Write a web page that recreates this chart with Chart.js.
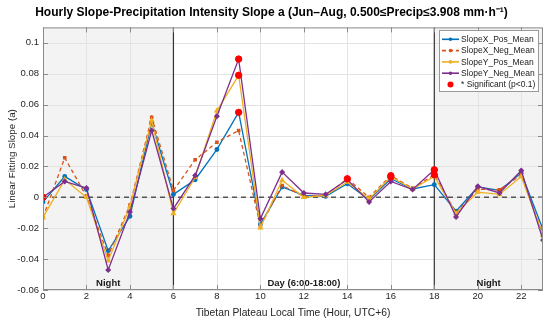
<!DOCTYPE html>
<html>
<head>
<meta charset="utf-8">
<script src="https://cdn.jsdelivr.net/npm/chart.js@4"></script>
<style>
  html, body { margin: 0; padding: 0; background: #fff; }
  #wrap { width: 550px; height: 324px; }
</style>
</head>
<body>
<div id="wrap"><canvas id="myChart" width="550" height="324"></canvas></div>
<script>
// data
const hours = [0,1,2,3,4,5,6,7,8,9,10,11,12,13,14,15,16,17,18,19,20,21,22,23];
const slopeXPos = [-0.003,0.0135,0.005,-0.0346,-0.0123,0.0486,0.0019,0.0114,0.031,0.055,-0.0174,0.0067,0.0013,0.0006,0.0088,-0.0015,0.012,0.0054,0.0082,-0.009,0.0067,0.0045,0.0157,-0.0209];
const slopeXNeg = [-0.013,0.0256,0.0006,-0.0376,-0.005,0.0518,0.0045,0.0243,0.0357,0.0432,-0.0187,0.0077,0.0006,0.0012,0.012,0.0,0.014,0.0058,0.0146,-0.010,0.0052,0.0049,0.0146,-0.0245];
const slopeYPos = [-0.013,0.0114,0.0,-0.041,-0.006,0.0497,-0.0105,0.013,0.056,0.079,-0.0196,0.011,0.0,0.0012,0.0099,-0.001,0.0133,0.0054,0.0135,-0.0105,0.0034,0.0019,0.0135,-0.0245];
const slopeYNeg = [0.0,0.0103,0.006,-0.047,-0.0095,0.0432,-0.0073,0.0142,0.0525,0.0895,-0.0138,0.0163,0.0028,0.0019,0.0115,-0.003,0.0103,0.005,0.0178,-0.0127,0.0071,0.0028,0.0174,-0.0277];
const sigHours = [0,9,9,9,14,16,16,18,18];
const sigValues = [0.0,0.0895,0.079,0.055,0.012,0.014,0.0133,0.0178,0.0146];
const seriesNames = ["SlopeX_Pos_Mean","SlopeX_Neg_Mean","SlopeY_Pos_Mean","SlopeY_Neg_Mean","* Significant (p<0.1)"];
const nightRanges = [[0,6],[18,23]];
const dayLines = [6,18];
const periodLabels = [["Night",3],["Day (6:00-18:00)",12],["Night",20.5]];

const FONT = "'Liberation Sans', Arial, sans-serif";

function pts(vals) {
  return hours.map((h, i) => ({x: h, y: vals[i]}));
}

const backdrop = {
  id: "backdrop",
  beforeDatasetsDraw(chart) {
    const {ctx, chartArea: a, scales: {x, y}} = chart;
    ctx.save();
    // night shading
    ctx.fillStyle = "#f3f3f3";
    nightRanges.forEach(r => {
      const x0 = x.getPixelForValue(r[0]), x1 = x.getPixelForValue(r[1]);
      ctx.fillRect(x0, a.top, x1 - x0, a.bottom - a.top);
    });
    // grid
    ctx.strokeStyle = "#e3e3e3";
    ctx.lineWidth = 1;
    x.ticks.forEach(t => {
      const px = Math.round(x.getPixelForValue(t.value)) + 0.5;
      ctx.beginPath(); ctx.moveTo(px, a.top); ctx.lineTo(px, a.bottom); ctx.stroke();
    });
    y.ticks.forEach(t => {
      const py = Math.round(y.getPixelForValue(t.value)) + 0.5;
      ctx.beginPath(); ctx.moveTo(a.left, py); ctx.lineTo(a.right, py); ctx.stroke();
    });
    // zero line
    ctx.strokeStyle = "#555";
    ctx.lineWidth = 1.5;
    ctx.setLineDash([5, 4]);
    const y0 = y.getPixelForValue(0);
    ctx.beginPath(); ctx.moveTo(a.left, y0); ctx.lineTo(a.right, y0); ctx.stroke();
    ctx.setLineDash([]);
    // day/night boundaries
    ctx.strokeStyle = "#333";
    ctx.lineWidth = 1.2;
    dayLines.forEach(h => {
      const px = x.getPixelForValue(h);
      ctx.beginPath(); ctx.moveTo(px, a.top); ctx.lineTo(px, a.bottom); ctx.stroke();
    });
    // period labels
    ctx.fillStyle = "#1a1a1a";
    ctx.font = "bold 9.5px " + FONT;
    ctx.textAlign = "center";
    ctx.textBaseline = "middle";
    periodLabels.forEach(p => ctx.fillText(p[0], x.getPixelForValue(p[1]), a.bottom - 7));
    ctx.restore();
  },
  afterDraw(chart) {
    const {ctx, chartArea: a, scales: {x, y}} = chart;
    ctx.save();
    // box and inward ticks
    ctx.strokeStyle = "#8a8a8a";
    ctx.lineWidth = 1;
    ctx.strokeRect(a.left + 0.5, a.top + 0.5, a.right - a.left - 1, a.bottom - a.top - 1);
    x.ticks.forEach(t => {
      const px = Math.round(x.getPixelForValue(t.value)) + 0.5;
      ctx.beginPath();
      ctx.moveTo(px, a.bottom); ctx.lineTo(px, a.bottom - 5);
      ctx.moveTo(px, a.top); ctx.lineTo(px, a.top + 5);
      ctx.stroke();
    });
    y.ticks.forEach(t => {
      const py = Math.round(y.getPixelForValue(t.value)) + 0.5;
      ctx.beginPath();
      ctx.moveTo(a.left, py); ctx.lineTo(a.left + 5, py);
      ctx.moveTo(a.right, py); ctx.lineTo(a.right - 5, py);
      ctx.stroke();
    });
    // legend
    const lx = 439, ly = 30, lw = 99, lh = 61;
    ctx.fillStyle = "#fff";
    ctx.fillRect(lx, ly, lw, lh);
    ctx.strokeStyle = "#999";
    ctx.strokeRect(lx + 0.5, ly + 0.5, lw, lh);
    ctx.font = "8.5px " + FONT;
    ctx.textAlign = "left";
    ctx.textBaseline = "middle";
    chart.data.datasets.forEach((ds, i) => {
      const cy = ly + 9.3 + i * 11.3;
      if (ds.showLine !== false) {
        ctx.strokeStyle = ds.borderColor;
        ctx.lineWidth = 1.6;
        ctx.setLineDash(ds.borderDash || []);
        ctx.beginPath(); ctx.moveTo(lx + 3, cy); ctx.lineTo(lx + 20, cy); ctx.stroke();
        ctx.setLineDash([]);
      }
      ctx.fillStyle = ds.pointBackgroundColor;
      ctx.beginPath();
      ctx.arc(lx + 11.5, cy, ds.showLine === false ? 3 : 1.8, 0, Math.PI * 2);
      ctx.fill();
      ctx.fillStyle = "#1a1a1a";
      ctx.fillText(ds.label, lx + 22, cy + 0.5);
    });
    ctx.restore();
  }
};

function lineSet(label, vals, color, style, dash, radius, order) {
  return {
    label: label,
    data: pts(vals),
    borderColor: color,
    backgroundColor: color,
    pointBackgroundColor: color,
    pointBorderColor: color,
    pointStyle: style,
    pointRadius: radius,
    borderWidth: 1.3,
    borderDash: dash,
    tension: 0,
    fill: false,
    order: order
  };
}

new Chart("myChart", {
  type: "line",
  data: {
    datasets: [
      lineSet(seriesNames[0], slopeXPos, "#0072BD", "circle", [], 1.8, 5),
      lineSet(seriesNames[1], slopeXNeg, "#D95319", "rect", [4, 3], 1.6, 4),
      lineSet(seriesNames[2], slopeYPos, "#EDB120", "triangle", [], 2.3, 3),
      lineSet(seriesNames[3], slopeYNeg, "#7E2F8E", "rectRot", [], 2.1, 2),
      {
        label: seriesNames[4],
        data: sigHours.map((h, i) => ({x: h, y: sigValues[i]})),
        showLine: false,
        pointStyle: "circle",
        pointRadius: 3.2,
        pointBackgroundColor: "#ff0000",
        pointBorderColor: "#ff0000",
        backgroundColor: "#ff0000",
        borderColor: "#ff0000",
        order: 1
      }
    ]
  },
  plugins: [backdrop],
  options: {
    responsive: false,
    animation: false,
    layout: {padding: {left: 0, right: 7, top: 0, bottom: 0}},
    plugins: {
      legend: {display: false},
      tooltip: {enabled: false},
      title: {
        display: true,
        text: "Hourly Slope-Precipitation Intensity Slope a (Jun\u2013Aug, 0.500\u2264Precip\u22643.908 mm\u00b7h\u207b\u00b9)",
        color: "#000",
        font: {family: FONT, size: 12, weight: "bold"},
        padding: {top: 5, bottom: 8}
      }
    },
    scales: {
      x: {
        type: "linear",
        min: 0,
        max: 23,
        afterBuildTicks: s => { s.ticks = s.ticks.filter(t => t.value % 2 === 0); },
        afterFit: s => { s.height = 34; },
        ticks: {stepSize: 2, color: "#262626", font: {family: FONT, size: 9.5}, padding: 1, maxRotation: 0},
        grid: {display: false, drawTicks: false},
        border: {display: false},
        title: {display: true, text: "Tibetan Plateau Local Time (Hour, UTC+6)", color: "#262626",
                font: {family: FONT, size: 10.3}, padding: {top: 1, bottom: 5}}
      },
      y: {
        min: -0.06,
        max: 0.11,
        afterBuildTicks: s => { s.ticks = s.ticks.filter(t => t.value <= 0.1001); },
        afterFit: s => { s.width = 43; },
        ticks: {stepSize: 0.02, color: "#262626", font: {family: FONT, size: 9.5}, padding: 4,
                callback: v => Math.abs(v) < 1e-9 ? "0" : String(+v.toFixed(2))},
        grid: {display: false, drawTicks: false},
        border: {display: false},
        title: {display: true, text: "Linear Fitting Slope (a)", color: "#262626",
                font: {family: FONT, size: 9.8}, padding: {top: 6, bottom: 2}}
      }
    }
  }
});
</script>
</body>
</html>
